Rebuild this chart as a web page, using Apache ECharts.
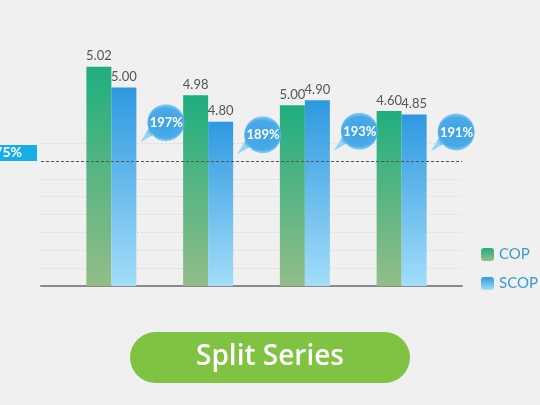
<!DOCTYPE html>
<html>
<head>
<meta charset="utf-8">
<script src="https://cdn.jsdelivr.net/npm/echarts@6/dist/echarts.min.js"></script>
<style>
  html, body { margin: 0; padding: 0; background: #f0f0f0; }
  #chart { width: 540px; height: 405px; }
</style>
</head>
<body>
<div id="chart"></div>
<script>
// groups along the x axis
const categories = ['A', 'B', 'C', 'D'];

// printed values above the bars
const copLabels = [5.02, 4.98, 5.00, 4.60];
const scopLabels = [5.00, 4.80, 4.90, 4.85];

// bar heights (percent scale of the axis)
const copHeights = [307, 267, 253, 245];
const scopHeights = [278, 230, 260, 240];

// bubble ratios and the height where each bubble sits
const ratioLabels = ['197%', '189%', '193%', '191%'];
const ratioHeights = [228, 211, 216, 215];

// reference line
const refLine = 175;

const chart = echarts.init(document.getElementById('chart'));

const font = 'Lato, "Open Sans", sans-serif';

function grad(top, bottom) {
    return new echarts.graphic.LinearGradient(0, 0, 0, 1, [
        { offset: 0, color: top },
        { offset: 1, color: bottom }
    ]);
}

const greenFill = grad('#1fae7e', '#93bd88');
const blueFill = grad('#2e99e0', '#a3ddf9');

const bubblePath = 'path://M25,0 A18.5,18.5 0 1 1 12.3,31 L0,38 L8.1,24.5 A18.5,18.5 0 0 1 25,0 Z';
const bubbleFill = new echarts.graphic.RadialGradient(0.58, 0.49, 0.5, [
    { offset: 0, color: '#3aa2e4' },
    { offset: 0.78, color: '#4aaae8' },
    { offset: 1, color: '#96d4f5' }
]);

const option = {
    animation: false,
    backgroundColor: '#f0f0f0',
    textStyle: { fontFamily: font },
    title: {
        text: 'Split Series',
        left: 'center',
        top: 332,
        backgroundColor: '#80c241',
        borderRadius: 26,
        padding: [9, 66],
        textStyle: {
            color: '#ffffff',
            fontSize: 28,
            fontWeight: 600,
            lineHeight: 33,
            fontFamily: '"Open Sans", Lato, sans-serif'
        }
    },
    legend: {
        data: ['COP', 'SCOP'],
        orient: 'vertical',
        left: 481,
        top: 247,
        padding: 0,
        itemWidth: 13,
        itemHeight: 13,
        itemGap: 14,
        textStyle: { color: '#3a9cc9', fontSize: 15, fontFamily: font }
    },
    grid: [
        // full-width grid: guide lines and base axis
        { left: 41, right: 78, top: 143, bottom: 119 },
        // bars
        { left: 63, right: 90, top: 36, bottom: 119 }
    ],
    xAxis: [
        {
            gridIndex: 0,
            type: 'value',
            min: 0,
            max: 1,
            axisLine: { show: true, onZero: false, lineStyle: { color: '#8a8a8a', width: 2 } },
            axisTick: { show: false },
            axisLabel: { show: false },
            splitLine: { show: false }
        },
        {
            gridIndex: 1,
            type: 'category',
            data: categories,
            axisLine: { show: false },
            axisTick: { show: false },
            axisLabel: { show: false }
        }
    ],
    yAxis: [
        {
            gridIndex: 0,
            type: 'value',
            min: 0,
            max: 200,
            interval: 25,
            axisLine: { show: false },
            axisTick: { show: false },
            axisLabel: { show: false },
            splitLine: { lineStyle: { color: '#dcdcdc', type: [2, 2] } }
        },
        {
            gridIndex: 1,
            type: 'value',
            min: 0,
            max: 350,
            axisLine: { show: false },
            axisTick: { show: false },
            axisLabel: { show: false },
            splitLine: { show: false }
        }
    ],
    series: [
        {
            name: 'ref',
            type: 'line',
            xAxisIndex: 0,
            yAxisIndex: 0,
            data: [],
            markLine: {
                silent: true,
                symbol: 'none',
                lineStyle: { color: '#555555', type: [3, 2], width: 1 },
                label: {
                    position: 'start',
                    distance: 4,
                    verticalAlign: 'bottom',
                    formatter: refLine + '%',
                    color: '#ffffff',
                    fontWeight: 'bold',
                    fontSize: 14,
                    fontFamily: font,
                    backgroundColor: '#17aee8',
                    padding: [1, 15, 1, 6]
                },
                data: [{ yAxis: refLine }]
            }
        },
        {
            name: 'COP',
            type: 'bar',
            xAxisIndex: 1,
            yAxisIndex: 1,
            barWidth: 25,
            barGap: '0%',
            data: copHeights,
            itemStyle: { color: greenFill },
            label: {
                show: true,
                position: 'top',
                distance: 4,
                color: '#555555',
                fontSize: 13,
                fontFamily: font,
                formatter: p => copLabels[p.dataIndex].toFixed(2)
            }
        },
        {
            name: 'SCOP',
            type: 'bar',
            xAxisIndex: 1,
            yAxisIndex: 1,
            barWidth: 25,
            barGap: '0%',
            data: scopHeights,
            itemStyle: { color: blueFill },
            label: {
                show: true,
                position: 'top',
                distance: 4,
                color: '#555555',
                fontSize: 13,
                fontFamily: font,
                formatter: p => scopLabels[p.dataIndex].toFixed(2)
            }
        },
        {
            name: 'ratio',
            type: 'scatter',
            xAxisIndex: 1,
            yAxisIndex: 1,
            z: 5,
            symbol: bubblePath,
            symbolSize: [44, 38],
            symbolOffset: [51, 0],
            itemStyle: { color: bubbleFill, opacity: 1 },
            data: ratioHeights.map((h, i) => [categories[i], h]),
            label: {
                show: true,
                position: 'inside',
                offset: [4, 0],
                color: '#ffffff',
                fontSize: 13,
                fontWeight: 'bold',
                fontFamily: font,
                formatter: p => ratioLabels[p.dataIndex]
            }
        }
    ]
};

chart.setOption(option);
</script>
</body>
</html>
